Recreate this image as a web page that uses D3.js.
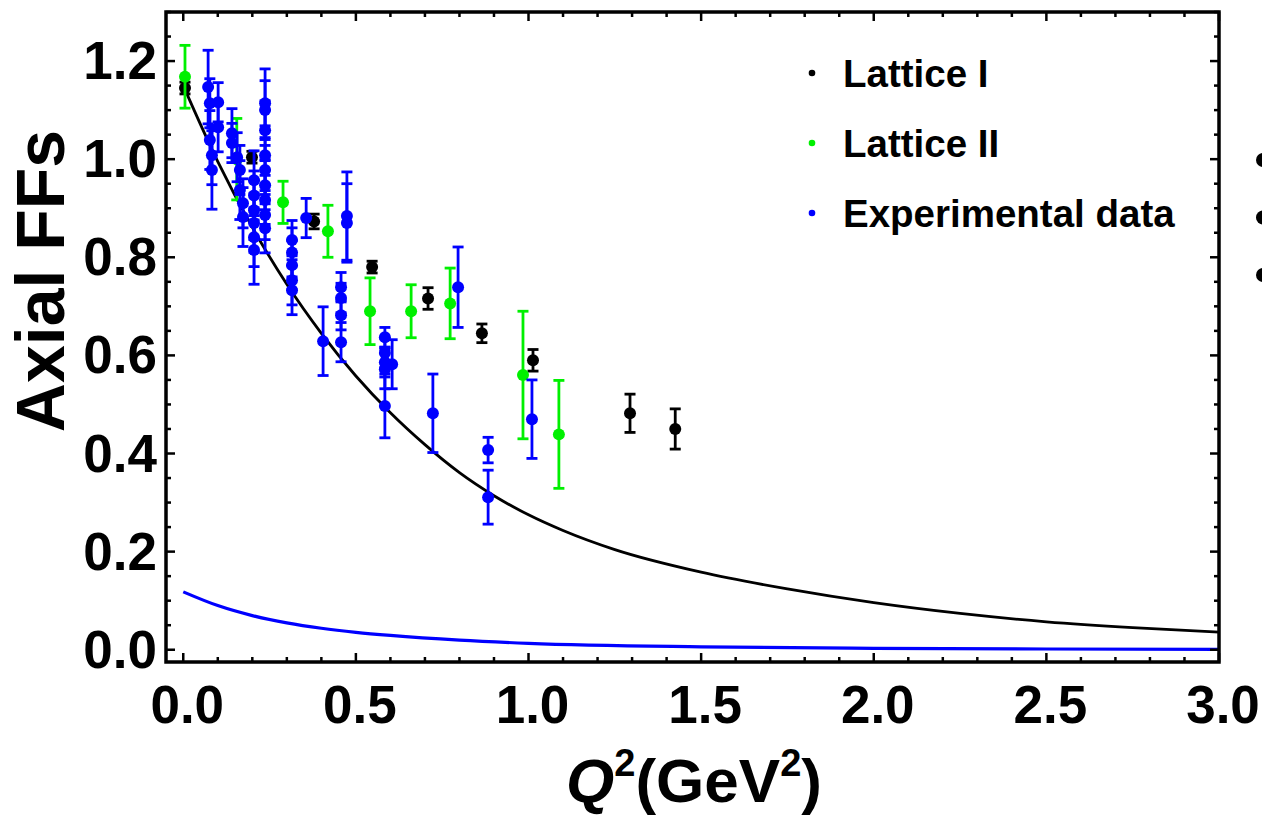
<!DOCTYPE html>
<html>
<head>
<meta charset="utf-8">
<script src="https://cdn.jsdelivr.net/npm/d3@7"></script>
<style>
  body { margin: 0; background: #fff; }
  text { font-family: "Liberation Sans", Arial, sans-serif; font-weight: bold; }
</style>
</head>
<body>
<svg id="chart" width="1262" height="821"></svg>
<script>
// curves
const blackCurveQ2 = [0.0, 0.1, 0.2, 0.3, 0.4, 0.5, 0.6, 0.7, 0.8, 0.9, 1.0, 1.1, 1.25, 1.5, 1.75, 2.0, 2.25, 2.5, 2.75, 3.0]
const blackCurveFF = [1.15, 0.995, 0.861, 0.745, 0.645, 0.558, 0.483, 0.418, 0.361, 0.314, 0.275, 0.243, 0.204, 0.158, 0.124, 0.096, 0.074, 0.057, 0.045, 0.036]
const blueCurveQ2 = [0.0, 0.1, 0.2, 0.3, 0.4, 0.5, 0.6, 0.8, 1.0, 1.5, 2.0, 2.5, 3.0]
const blueCurveFF = [0.118, 0.090, 0.0696, 0.0548, 0.0438, 0.0355, 0.0291, 0.0195, 0.0131, 0.0059, 0.0029, 0.0015, 0.0008]

// Lattice I
const lat1Q2 = [0.005, 0.199, 0.379, 0.547, 0.709, 0.865, 1.013, 1.294, 1.425]
const lat1FF = [1.145, 1.004, 0.873, 0.780, 0.716, 0.645, 0.590, 0.482, 0.450]
const lat1Err = [0.012, 0.012, 0.015, 0.012, 0.022, 0.019, 0.022, 0.039, 0.041]

// Lattice II
const lat2Q2 = [0.005, 0.155, 0.289, 0.419, 0.541, 0.660, 0.773, 0.984, 1.088]
const lat2FF = [1.168, 1.0, 0.912, 0.853, 0.690, 0.690, 0.706, 0.560, 0.439]
const lat2Err = [0.064, 0.083, 0.043, 0.053, 0.068, 0.054, 0.072, 0.13, 0.11]

// Experimental data
const expQ2 = [0.072, 0.077, 0.077, 0.083, 0.083, 0.101, 0.101, 0.141, 0.141, 0.156, 0.164, 0.164, 0.173, 0.173,
  0.205, 0.205, 0.205, 0.205, 0.205, 0.205,
  0.237, 0.237, 0.237, 0.237, 0.237, 0.237, 0.237, 0.237, 0.237,
  0.315, 0.315, 0.315, 0.315, 0.315, 0.356, 0.405, 0.457, 0.457, 0.457, 0.457, 0.474, 0.474,
  0.584, 0.584, 0.584, 0.584, 0.605, 0.584, 0.723, 0.796, 0.883, 0.883, 1.010]
const expFF = [1.147, 1.114, 1.039, 1.008, 0.978, 1.116, 1.065, 1.053, 1.033, 1.004, 0.978, 0.937, 0.910, 0.882,
  0.957, 0.926, 0.896, 0.870, 0.841, 0.815,
  1.114, 1.100, 1.059, 1.008, 0.978, 0.947, 0.917, 0.886, 0.859,
  0.835, 0.810, 0.784, 0.753, 0.733, 0.880, 0.629, 0.739, 0.717, 0.682, 0.627, 0.884, 0.870,
  0.637, 0.605, 0.586, 0.572, 0.582, 0.497, 0.482, 0.739, 0.407, 0.311, 0.470]
const expErr = [0.075, 0.05, 0.06, 0.06, 0.08, 0.04, 0.05, 0.05, 0.04, 0.05, 0.05, 0.06, 0.05, 0.06,
  0.06, 0.05, 0.06, 0.06, 0.06, 0.07,
  0.07, 0.06, 0.06, 0.06, 0.05, 0.05, 0.05, 0.05, 0.05,
  0.04, 0.05, 0.05, 0.05, 0.05, 0.04, 0.07, 0.03, 0.03, 0.03, 0.04, 0.09, 0.08,
  0.02, 0.03, 0.03, 0.04, 0.05, 0.065, 0.08, 0.082, 0.026, 0.055, 0.08]

const xTicks = [0, 0.5, 1.0, 1.5, 2.0, 2.5, 3.0]
const yTicks = [0, 0.2, 0.4, 0.6, 0.8, 1.0, 1.2]
const legendLabels = ["Lattice I", "Lattice II", "Experimental data"]
const legendColours = ["#000000", "#00f000", "#0000ff"]

const svg = d3.select('#chart')
const plotLeft = 166, plotRight = 1219, plotTop = 12, plotBottom = 662

const x = d3.scaleLinear().domain([-0.05, 3.0]).range([plotLeft, plotRight])
const y = d3.scaleLinear().domain([-0.025, 1.3]).range([plotBottom, plotTop])

const zip = (qs, vs, es) => qs.map((q, i) => ({q, v: vs[i], e: es ? es[i] : 0}))

// curves
const line = d3.line().x(d => x(d.q)).y(d => y(d.v)).curve(d3.curveMonotoneX)
svg.append('path').datum(zip(blackCurveQ2, blackCurveFF))
  .attr('d', line).attr('fill', 'none').attr('stroke', '#000').attr('stroke-width', 2.8)
svg.append('path').datum(zip(blueCurveQ2, blueCurveFF))
  .attr('d', line).attr('fill', 'none').attr('stroke', '#0000ff').attr('stroke-width', 3.2)

// points with error bars
function drawSeries(data, colour) {
  const g = svg.append('g')
  const capW = 5.5
  g.selectAll('line.bar').data(data).join('line')
    .attr('x1', d => x(d.q)).attr('x2', d => x(d.q))
    .attr('y1', d => y(d.v - d.e)).attr('y2', d => y(d.v + d.e))
    .attr('stroke', colour).attr('stroke-width', 2.8)
  g.selectAll('line.capTop').data(data).join('line')
    .attr('x1', d => x(d.q) - capW).attr('x2', d => x(d.q) + capW)
    .attr('y1', d => y(d.v + d.e)).attr('y2', d => y(d.v + d.e))
    .attr('stroke', colour).attr('stroke-width', 2.8)
  g.selectAll('line.capBot').data(data).join('line')
    .attr('x1', d => x(d.q) - capW).attr('x2', d => x(d.q) + capW)
    .attr('y1', d => y(d.v - d.e)).attr('y2', d => y(d.v - d.e))
    .attr('stroke', colour).attr('stroke-width', 2.8)
  g.selectAll('circle').data(data).join('circle')
    .attr('cx', d => x(d.q)).attr('cy', d => y(d.v)).attr('r', 6)
    .attr('fill', colour)
}
drawSeries(zip(lat1Q2, lat1FF, lat1Err), legendColours[0])
drawSeries(zip(lat2Q2, lat2FF, lat2Err), legendColours[1])
drawSeries(zip(expQ2, expFF, expErr), legendColours[2])

// frame and ticks (inward, all four sides)
const frame = svg.append('g')
const xMinor = d3.range(0, 3.001, 0.1)
const yMinor = d3.range(0, 1.301, 0.05)
const isMajorX = t => Math.abs(t * 2 - Math.round(t * 2)) < 1e-6
const isMajorY = t => Math.abs(t * 5 - Math.round(t * 5)) < 1e-6
frame.selectAll('line.xt').data(xMinor).join('line')
  .attr('x1', d => x(d)).attr('x2', d => x(d))
  .attr('y1', plotBottom).attr('y2', d => plotBottom - (isMajorX(d) ? 9 : 5))
  .attr('stroke', '#000').attr('stroke-width', 2.5)
frame.selectAll('line.xtt').data(xMinor).join('line')
  .attr('x1', d => x(d)).attr('x2', d => x(d))
  .attr('y1', plotTop).attr('y2', d => plotTop + (isMajorX(d) ? 9 : 5))
  .attr('stroke', '#000').attr('stroke-width', 2.5)
frame.selectAll('line.yt').data(yMinor).join('line')
  .attr('y1', d => y(d)).attr('y2', d => y(d))
  .attr('x1', plotLeft).attr('x2', d => plotLeft + (isMajorY(d) ? 9 : 5))
  .attr('stroke', '#000').attr('stroke-width', 2.5)
frame.selectAll('line.ytr').data(yMinor).join('line')
  .attr('y1', d => y(d)).attr('y2', d => y(d))
  .attr('x1', plotRight).attr('x2', d => plotRight - (isMajorY(d) ? 9 : 5))
  .attr('stroke', '#000').attr('stroke-width', 2.5)
frame.append('rect').attr('x', plotLeft).attr('y', plotTop)
  .attr('width', plotRight - plotLeft).attr('height', plotBottom - plotTop)
  .attr('fill', 'none').attr('stroke', '#000').attr('stroke-width', 3.5)

// tick labels
svg.selectAll('text.xl').data(xTicks).join('text')
  .attr('x', d => x(d) + 4).attr('y', 723)
  .attr('text-anchor', 'middle').attr('font-size', 53)
  .text(d => d.toFixed(1))
svg.selectAll('text.yl').data(yTicks).join('text')
  .attr('x', 157).attr('y', d => y(d) + 18)
  .attr('text-anchor', 'end').attr('font-size', 53)
  .text(d => d.toFixed(1))

// axis titles
svg.append('text')
  .attr('transform', 'translate(64,281) rotate(-90)')
  .attr('text-anchor', 'middle').attr('font-size', 68)
  .text('Axial FFs')
const xt = svg.append('text').attr('x', 694).attr('y', 802)
  .attr('text-anchor', 'middle').attr('font-size', 62)
xt.append('tspan').attr('font-style', 'italic').text('Q')
xt.append('tspan').attr('font-size', 38).attr('dy', -26).text('2')
xt.append('tspan').attr('dy', 26).text('(GeV')
xt.append('tspan').attr('font-size', 38).attr('dy', -26).text('2')
xt.append('tspan').attr('dy', 26).text(')')

// legend
const legend = svg.append('g')
legendLabels.forEach((lab, i) => {
  const ly = 73 + i * 70
  legend.append('circle').attr('cx', 812).attr('cy', ly).attr('r', 3.3).attr('fill', legendColours[i])
  legend.append('text').attr('x', 843).attr('y', ly + 14).attr('font-size', 38.5).text(lab)
})

// cropped second legend on the far right
const extraDots = [0, 1, 2]
svg.selectAll('circle.extra').data(extraDots).join('circle')
  .attr('cx', 1263).attr('cy', d => 160 + d * 57.5).attr('r', 7).attr('fill', '#000')
</script>
</body>
</html>
